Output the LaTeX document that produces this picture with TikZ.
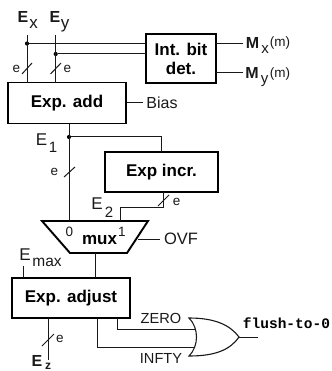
\documentclass[tikz,border=0pt]{standalone}
\usepackage{fontspec}
\setmainfont{Liberation Sans}
\setmonofont{Liberation Mono}
\begin{document}
\begin{tikzpicture}[x=1pt,y=-1pt,
  wire/.style={line width=1pt,black!90},
  blockbox/.style={draw,line width=1.9pt,inner sep=0pt,font=\fontsize{17}{19}\selectfont\bfseries,align=center},
  lab/.style={inner sep=0pt,anchor=center,text=black!90},
  small/.style={lab,font=\fontsize{13.5}{15}\selectfont},
  dotmark/.style={circle,fill=black,inner sep=0pt,minimum size=4.2pt}]
\useasboundingbox (0,0) rectangle (331,371);
% blocks
\node[blockbox,minimum width=70pt,minimum height=49pt] (ibd) at (181,58.5) {Int. bit\\[0pt]det.};
\node[blockbox,minimum width=118pt,minimum height=41pt] (add) at (67,103) {Exp. add};
\node[blockbox,minimum width=113pt,minimum height=40pt] (inc) at (161.5,172) {Exp incr.};
\node[blockbox,minimum width=118pt,minimum height=40pt] (adj) at (71,298) {Exp. adjust};
% mux
\draw[line width=1.9pt,join=miter] (42,221) coordinate (muxtl) -- (148,221) coordinate (muxtr) -- (127,253) coordinate (muxbr) -- (70,253) coordinate (muxbl) -- cycle;
\node[inner sep=0pt,font=\fontsize{17}{19}\selectfont\bfseries] (mux) at (99.5,240) {mux};
\node[small] (m0) at (69.5,231.5) {0};
\node[small] (m1) at (122,232) {1};
% free ends
\coordinate (ex) at (27,35); \coordinate (ey) at (55.7,35);
\node[dotmark] (dx) at (27,43.5) {};
\node[dotmark] (dy) at (55.7,54) {};
\node[dotmark] (d1) at (69,137) {};
% top wires
\draw[wire] (ex) -- (27,83);
\draw[wire] (ey) -- (55.7,83);
\draw[wire] (dx) -- (146,43.5);
\draw[wire] (dy) -- (146,54);
\coordinate (sx1) at (22,74); \coordinate (sx2) at (32,63);
\coordinate (sy1) at (50.5,74); \coordinate (sy2) at (61,63);
\draw[wire] (sx1) -- (sx2);
\draw[wire] (sy1) -- (sy2);
\node[small] (e1) at (16.5,68.5) {e};
\node[small] (e2) at (67.5,68.5) {e};
\node[lab,font=\fontsize{16}{18}\selectfont\bfseries] (Ex) at (23,16.5) {E};
\node[lab,font=\fontsize{17}{19}\selectfont] (Exs) at (33.5,24) {x};
\node[lab,font=\fontsize{16}{18}\selectfont\bfseries] (Ey) at (55,16.5) {E};
\node[lab,font=\fontsize{17}{19}\selectfont] (Eys) at (65,26) {y};
% outputs of ibd
\coordinate (mx) at (243,43.5); \coordinate (my) at (243,72.5);
\draw[wire] (216,43.5) -- (mx);
\draw[wire] (216,72.5) -- (my);
\node[lab,font=\fontsize{16}{18}\selectfont\bfseries] (Mx) at (252.5,42.5) {M};
\node[lab,font=\fontsize{15}{17}\selectfont] (Mxs) at (265,50) {x};
\node[lab,font=\fontsize{13.5}{15}\selectfont] (Mxm) at (280,43) {(m)};
\node[lab,font=\fontsize{16}{18}\selectfont\bfseries] (My) at (252,73) {M};
\node[lab,font=\fontsize{15}{17}\selectfont] (Mys) at (264.5,81) {y};
\node[lab,font=\fontsize{13.5}{15}\selectfont] (Mym) at (280,74) {(m)};
% bias
\draw[wire] (add.east) -- (143,103);
\node[lab,font=\fontsize{16}{18}\selectfont] (bias) at (162,102.5) {Bias};
% E1 and incr
\draw[wire] (add.south -| d1) -- (69,221);
\draw[wire] (d1) -- (161,137) -- (161,152);
\coordinate (s11) at (64,177); \coordinate (s12) at (75,167);
\draw[wire] (s11) -- (s12);
\node[small] (e3) at (54.5,171.5) {e};
\node[lab,font=\fontsize{17}{19}\selectfont] (E1) at (41.5,139.5) {E};
\node[lab,font=\fontsize{15}{17}\selectfont] (E1s) at (53,147) {1};
% E2
\draw[wire] (163,192) -- (163,207) -- (120,207) -- (120,221);
\coordinate (s21) at (158,206); \coordinate (s22) at (169,195);
\draw[wire] (s21) -- (s22);
\node[small] (e4) at (176.5,202) {e};
\node[lab,font=\fontsize{17}{19}\selectfont] (E2) at (97,204) {E};
\node[lab,font=\fontsize{15}{17}\selectfont] (E2s) at (109,212) {2};
% OVF
\draw[wire] (138,239) -- (160,239);
\node[lab,font=\fontsize{16.5}{18}\selectfont] (ovf) at (181,238.5) {OVF};
% mux to adjust
\draw[wire] (95,253) -- (95,278);
\coordinate (em) at (23,266);
\draw[wire] (em) -- (23,278);
\node[lab,font=\fontsize{17}{19}\selectfont] (Emax) at (25,254.5) {E};
\node[lab,font=\fontsize{15.5}{17}\selectfont] (Emaxs) at (47,262) {max};
% Ez
\coordinate (ez) at (48,360);
\draw[wire] (48,318) -- (ez);
\coordinate (s31) at (42,346); \coordinate (s32) at (54,334);
\draw[wire] (s31) -- (s32);
\node[small] (e5) at (60,339) {e};
\node[lab,font=\fontsize{16}{18}\selectfont\bfseries] (Ez) at (37,360.5) {E};
\node[lab,font=\fontsize{12}{14}\selectfont\bfseries] (Ezs) at (48,366.5) {z};
% OR gate
\draw[line width=1.1pt,black!90] (189,318) .. controls (199,328) and (199,346) .. (189,356) coordinate (g2)
  .. controls (215,356) and (230,350) .. (239,337) coordinate (gt)
  .. controls (230,325) and (215,318) .. (189,318) -- cycle;
\draw[wire] (117,318) -- (117,329) -- (195,329);
\draw[wire] (97,318) -- (97,347) -- (195,347);
\coordinate (fo) at (258,337);
\draw[wire] (gt) -- (fo);
\node[lab,font=\fontsize{14.6}{16}\selectfont] (zero) at (161,318.5) {ZERO};
\node[lab,font=\fontsize{14.6}{16}\selectfont] (infty) at (161,358) {INFTY};
\node[inner sep=0pt,font=\fontsize{14.5}{16}\selectfont\ttfamily\bfseries] (fl) at (286.5,323.5) {flush-to-0};
\end{tikzpicture}
\end{document}
